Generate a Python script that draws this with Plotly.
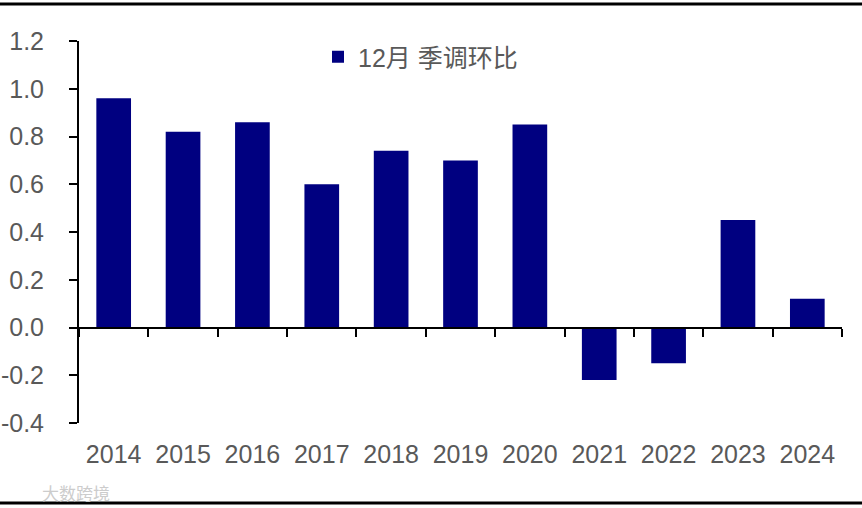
import plotly.graph_objects as go

years = ["2014", "2015", "2016", "2017", "2018", "2019", "2020", "2021", "2022", "2023", "2024"]
values = [0.96, 0.82, 0.86, 0.60, 0.74, 0.70, 0.85, -0.22, -0.15, 0.45, 0.12]
series_name = "12月 季调环比"
y_tickvals = [-0.4, -0.2, 0.0, 0.2, 0.4, 0.6, 0.8, 1.0, 1.2]
y_ticktext = ["-0.4", "-0.2", "0.0", "0.2", "0.4", "0.6", "0.8", "1.0", "1.2"]

W, H = 862, 508
L, R, T, B = 79, 20, 41, 85
plot_w = W - L - R
plot_h = H - T - B
ymin, ymax = -0.4, 1.2
zero_pos = (0 - ymin) / (ymax - ymin)

font_fam = "Liberation Sans, Arial, Noto Sans CJK SC, sans-serif"
grey = "#595959"

fig = go.Figure()
fig.add_trace(go.Bar(
    x=years, y=values, name=series_name,
    marker=dict(color="#000080", line=dict(width=0)),
))
# invisible helper trace for the zero-line axis
fig.add_trace(go.Scatter(x=[0], y=[0], xaxis="x2", mode="none",
                         showlegend=False, hoverinfo="skip"))

n = len(years)
boundaries = [i - 0.5 for i in range(n + 1)]

fig.update_layout(
    width=W, height=H,
    margin=dict(l=L, r=R, t=T, b=B, pad=0, autoexpand=False),
    paper_bgcolor="white", plot_bgcolor="white",
    font=dict(family=font_fam, color=grey, size=25),
    bargap=0.5,
    showlegend=True,
    legend=dict(
        x=(318 - L) / plot_w, y=(H - B - 57) / plot_h,
        xanchor="left", yanchor="middle",
        font=dict(size=25, color=grey, family="Liberation Sans, Noto Sans CJK SC, sans-serif"),
        bgcolor="rgba(0,0,0,0)", itemwidth=30,
    ),
    xaxis=dict(
        type="category", range=[-0.5, n - 0.5], automargin=False,
        showline=False, ticks="", showgrid=False, zeroline=False,
        tickfont=dict(size=25, color=grey),
        ticklabelstandoff=14,
    ),
    xaxis2=dict(
        overlaying="x", anchor="free", position=zero_pos, automargin=False,
        range=[-0.5, n - 0.5], tickvals=boundaries,
        showticklabels=False, ticks="outside", ticklen=8, tickwidth=2, tickcolor="black",
        showline=True, linecolor="black", linewidth=2, showgrid=False, zeroline=False,
    ),
    yaxis=dict(
        range=[ymin, ymax], tickvals=y_tickvals, ticktext=y_ticktext, automargin=False,
        showline=True, linecolor="black", linewidth=2,
        ticks="outside", ticklen=8, tickwidth=2, tickcolor="black",
        showgrid=False, zeroline=False,
        tickfont=dict(size=25, color=grey),
        ticklabelstandoff=20,
    ),
    shapes=[
        dict(type="line", xref="paper", yref="paper", x0=-L / plot_w, x1=1 + R / plot_w,
             y0=1 + (T - 4) / plot_h, y1=1 + (T - 4) / plot_h, line=dict(color="black", width=3)),
        dict(type="line", xref="paper", yref="paper", x0=-L / plot_w, x1=1 + R / plot_w,
             y0=-(B - 5) / plot_h, y1=-(B - 5) / plot_h, line=dict(color="black", width=3)),
    ],
    annotations=[
        dict(text="大数跨境", xref="paper", yref="paper",
             x=(40 - L) / plot_w, y=-(492 - (H - B)) / plot_h,
             xanchor="left", yanchor="middle", showarrow=False,
             font=dict(size=17, color="#cccccc", family="Noto Sans CJK SC")),
    ],
)

fig.write_html("out.html", config={"displayModeBar": False},
               post_script="document.body.style.margin='0';")
